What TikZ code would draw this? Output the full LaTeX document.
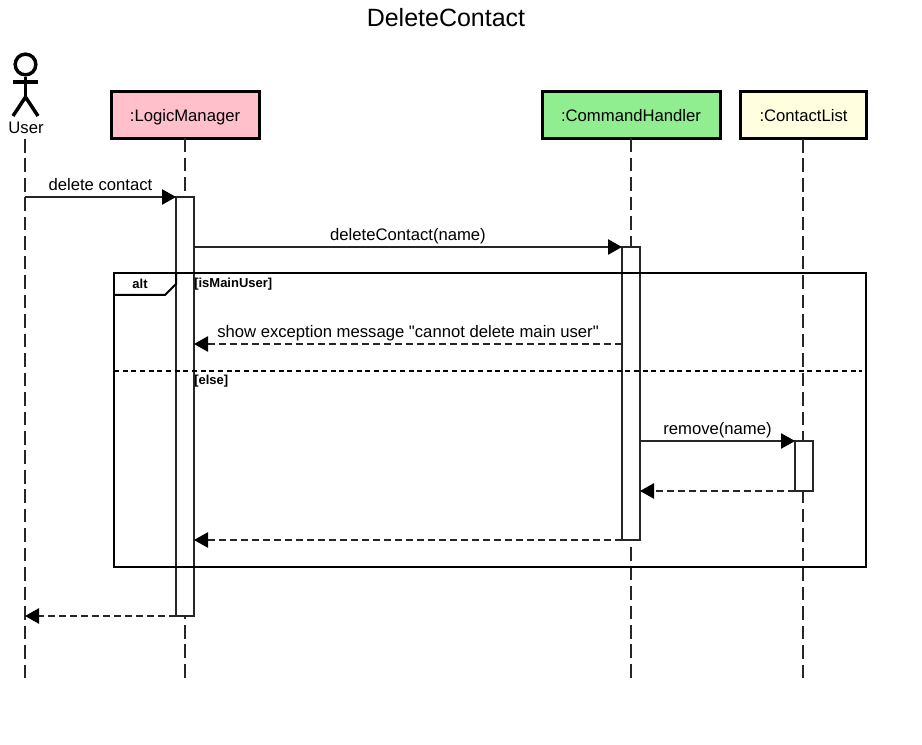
\documentclass[tikz,border=0pt]{standalone}
\usepackage{fontspec}
\setmainfont{Liberation Sans}[Ligatures=TeXOff]
\usetikzlibrary{arrows.meta,positioning}

\begin{document}
\begin{tikzpicture}[
    x=0.75pt, y=-0.75pt,
    lifebox/.style={rectangle, draw=black, line width=2.25pt, minimum height=35pt, inner sep=0pt, outer sep=0pt, text depth=0pt, font=\fontsize{12.5}{14}\selectfont},
    lifeline/.style={draw=black!85, line width=1.2pt, dash pattern=on 10.2pt off 4.4pt},
    bar/.style={rectangle, draw=black!85, fill=white, line width=1.1pt, minimum width=13.5pt, inner sep=0pt, outer sep=0pt},
    msg/.style={-{Triangle[length=10.5pt,width=11.5pt,black]}, draw=black!85, line width=1.1pt},
    reply/.style={msg, dash pattern=on 5.5pt off 2.75pt},
    msglabel/.style={above, anchor=base, inner sep=0pt, yshift=5pt, font=\fontsize{12.5}{14}\selectfont},
    guard/.style={anchor=west, inner sep=0pt, font=\bfseries\fontsize{9.75}{11}\selectfont},
    frameline/.style={draw=black, line width=2.1pt},
    stick/.style={draw=black, line width=2.6pt}
]

\useasboundingbox (0,0) rectangle (922,745);

\node[font=\fontsize{18.75}{22}\selectfont, inner sep=0pt] (title) at (446,18) {DeleteContact};

% actor
\node[circle, stick, minimum size=15.5pt, inner sep=0pt] (head) at (25.5,64.5) {};
\coordinate (hip) at (25.5,97);
\draw[stick] (head.south) -- (hip);
\draw[stick] (13,82) -- (38,82);
\draw[stick] (13,116) -- (hip) -- (38,116);
\node[inner sep=0pt, font=\fontsize{12.5}{14}\selectfont] (user) at (26,128) {User};

% lifeline heads
\node[lifebox, fill={rgb,255:red,255;green,192;blue,203}, minimum width=111pt] (logic) at (185,115) {:LogicManager};
\node[lifebox, fill={rgb,255:red,144;green,238;blue,144}, minimum width=133.5pt] (handler) at (631,115) {:CommandHandler};
\node[lifebox, fill={rgb,255:red,255;green,255;blue,224}, minimum width=95pt] (contacts) at (803.5,115) {:ContactList};

% lifeline ends
\coordinate (userTop) at (25,139);
\coordinate (userEnd) at (25,678);
\coordinate (logicEnd) at (185,678);
\coordinate (handlerEnd) at (631,678);
\coordinate (contactsTop) at (803,139);
\coordinate (contactsEnd) at (803,678);

\draw[lifeline] (userTop) -- (userEnd);
\draw[lifeline] (logic.south) -- (logicEnd);
\draw[lifeline] (handler.south) -- (handlerEnd);
\draw[lifeline] (contactsTop) -- (contactsEnd);

% activation bars
\node[bar, minimum height=314.25pt] (logicBar) at (185,406.5) {};
\node[bar, minimum height=219.75pt] (handlerBar) at (631,393.5) {};
\node[bar, minimum height=37.5pt] (contactsBar) at (804,466) {};

% alt frame
\coordinate (frameNW) at (114,273);
\coordinate (frameSE) at (866,567);
\coordinate (tabNE) at (176,273);
\coordinate (tabCut) at (176,284);
\coordinate (tabLow) at (165,295);
\coordinate (tabSW) at (114,295);
\coordinate (splitW) at (114,371);
\coordinate (splitE) at (862,371);
\draw[frameline] (frameNW) rectangle (frameSE);
\draw[draw=black, line width=1.5pt] (tabNE) -- (tabCut) -- (tabLow) -- (tabSW);
\draw[draw=black, line width=2pt, dash pattern=on 3.75pt off 2.75pt] (splitW) -- (splitE);
\node[inner sep=0pt, font=\bfseries\fontsize{9.75}{11}\selectfont] (altLabel) at (140,284) {alt};
\node[guard] (mainGuard) at (194,284) {[isMainUser]};
\node[guard] (elseGuard) at (194,381) {[else]};

% messages
\coordinate (userCall) at (25,197);
\coordinate (userBack) at (25,616);
\coordinate (excFrom) at (622,344);
\coordinate (excTo) at (194,344);
\coordinate (doneFrom) at (622,540);
\coordinate (doneTo) at (194,540);
\draw[msg] (userCall) -- node[msglabel] {delete contact} (logicBar.north west);
\draw[msg] (logicBar.east |- handlerBar.north) -- node[msglabel] {deleteContact(name)} (handlerBar.north west);
\draw[reply] (excFrom) -- node[msglabel] {show exception message "cannot delete main user"} (excTo);
\draw[msg] (handlerBar.east |- contactsBar.north) -- node[msglabel] {remove(name)} (contactsBar.north west);
\draw[reply] (contactsBar.south west) -- (handlerBar.east |- contactsBar.south);
\draw[reply] (doneFrom) -- (doneTo);
\draw[reply] (logicBar.south west) -- (userBack);

\end{tikzpicture}
\end{document}
